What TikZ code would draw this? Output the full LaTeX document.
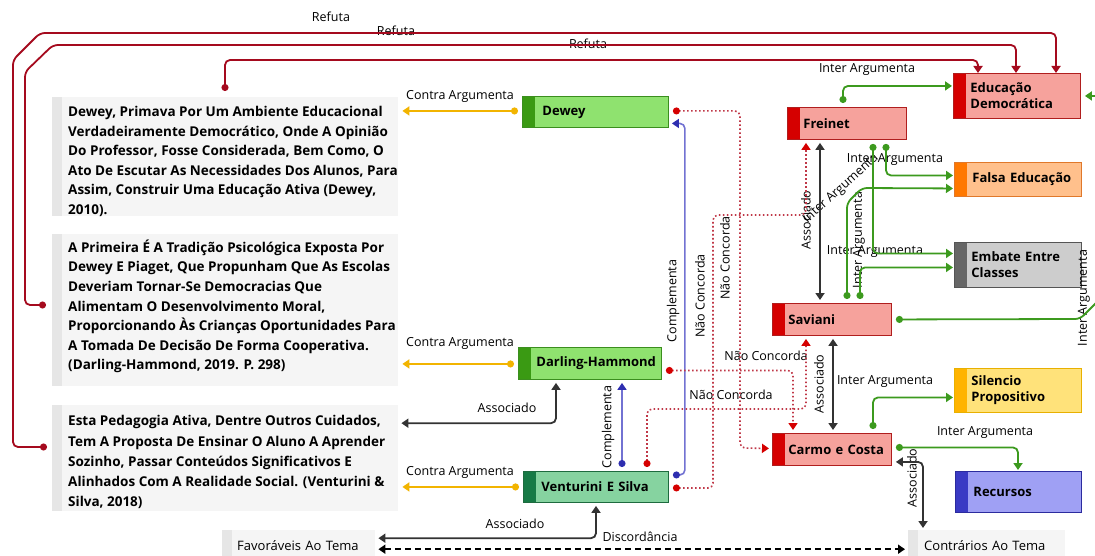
\documentclass[tikz,border=0pt]{standalone}
\usepackage{fontspec}
\setmainfont{Open Sans}
\usetikzlibrary{arrows.meta,calc}
\newcommand\nodeind[1][17pt]{\hspace*{#1}}
\definecolor{refred}{HTML}{A50A1E}
\definecolor{orng}{HTML}{F2B400}
\definecolor{grn}{HTML}{3C9A1E}
\definecolor{blk}{HTML}{333333}
\definecolor{blu}{HTML}{7272D2}
\definecolor{bluetip}{HTML}{2E2EB0}
\definecolor{dotred}{HTML}{C03848}
\definecolor{gD}{HTML}{3B8E1E}\definecolor{gF}{HTML}{8FE26F}\definecolor{gS}{HTML}{3A9A13}
\definecolor{vD}{HTML}{1E6B3F}\definecolor{vF}{HTML}{86D3A0}\definecolor{vS}{HTML}{177A46}
\definecolor{rD}{HTML}{B01E1E}\definecolor{rF}{HTML}{F6A29C}\definecolor{rS}{HTML}{D50000}
\definecolor{oD}{HTML}{E0782A}\definecolor{oF}{HTML}{FFC08C}\definecolor{oS}{HTML}{FF7800}
\definecolor{kD}{HTML}{555555}\definecolor{kF}{HTML}{CDCDCD}\definecolor{kS}{HTML}{666666}
\definecolor{yD}{HTML}{E8B000}\definecolor{yF}{HTML}{FFE27A}\definecolor{yS}{HTML}{FFB400}
\definecolor{bD}{HTML}{2B2B9E}\definecolor{bF}{HTML}{9FA0F4}\definecolor{bS}{HTML}{3A3AC4}
\definecolor{qF}{HTML}{F5F5F5}\definecolor{qS}{HTML}{E6E6E6}
\tikzset{
  cbox/.style n args={3}{draw=#1, fill=#2, line width=0.9pt, anchor=north west,
    inner xsep=0pt, inner ysep=0pt, align=left,
    font=\fontsize{13}{16}\selectfont\bfseries,
    path picture={\fill[#3] (path picture bounding box.north west) rectangle ([xshift=13pt]path picture bounding box.south west);}},
  gbox/.style={cbox={gD}{gF}{gS}},
  vbox/.style={cbox={vD}{vF}{vS}},
  rbox/.style={cbox={rD}{rF}{rS}},
  obox/.style={cbox={oD}{oF}{oS}},
  kbox/.style={cbox={kD}{kF}{kS}},
  ybox/.style={cbox={yD}{yF}{yS}},
  bbox/.style={cbox={bD}{bF}{bS}},
  qbox/.style={fill=qF, draw=none, anchor=north west, inner sep=0pt,
    path picture={\fill[qS] (path picture bounding box.north west) rectangle ([xshift=10pt]path picture bounding box.south west);}},
  tbox/.style={fill=qF, draw=none, anchor=north west, inner sep=0pt, align=left,
    font=\fontsize{13}{16}\selectfont,
    path picture={\fill[qS] (path picture bounding box.north west) rectangle ([xshift=10pt]path picture bounding box.south west);}},
  qtext/.style={anchor=north west, inner sep=0pt, align=left, font=\fontsize{13.5}{19.6}\selectfont\bfseries},
  lbl/.style={inner sep=0pt, font=\fontsize{12.5}{14}\selectfont},
  conn/.style={line width=1.8pt, rounded corners=5pt},
  refuta/.style={conn, draw=refred, {Circle[length=7pt]}-{Triangle[width=9pt,length=7pt]}},
  contra/.style={conn, draw=orng, {Circle[length=7pt]}-{Triangle[width=9pt,length=7pt]}},
  inter/.style={conn, draw=grn, {Circle[length=7pt]}-{Triangle[width=9pt,length=7pt]}},
  assoc/.style={conn, draw=blk, {Triangle[width=9pt,length=7pt]}-{Triangle[width=9pt,length=7pt]}},
  discord/.style={line width=1.8pt, draw=black, dash pattern=on 6pt off 4pt, {Triangle[width=9pt,length=7pt]}-{Triangle[width=9pt,length=7pt]}},
  compl/.style={conn, line width=1.6pt, draw=blu, {Circle[length=7pt,color=bluetip]}-{Triangle[width=9pt,length=7pt,color=bluetip]}},
  naoc/.style={conn, line width=1.6pt, draw=dotred, dash pattern=on 1.6pt off 2.4pt, {Circle[length=7pt,color=rS]}-{Triangle[width=9pt,length=7pt,color=rS]}},
}
\begin{document}
\begin{tikzpicture}[x=1pt,y=-1pt]
\useasboundingbox (0,0) rectangle (1095,556);
\fill[white] (0,0) rectangle (1095,556);
\clip (0,0) rectangle (1095,556);

% quote boxes
\node[qbox, minimum width=346pt, minimum height=119pt] (q1) at (52,97) {};
\node[qtext] (q1t) at (68,106) {Dewey, Primava Por Um Ambiente Educacional\\ Verdadeiramente Democrático, Onde A Opinião\\ Do Professor, Fosse Considerada, Bem Como, O\\ Ato De Escutar As Necessidades Dos Alunos, Para\\ Assim, Construir Uma Educação Ativa (Dewey,\\ 2010).};
\node[qbox, minimum width=346pt, minimum height=152pt] (q2) at (52,234) {};
\node[qtext] (q2t) at (68,239.5) {A Primeira É A Tradição Psicológica Exposta Por\\ Dewey E Piaget, Que Propunham Que As Escolas\\ Deveriam Tornar-Se Democracias Que\\ Alimentam O Desenvolvimento Moral,\\ Proporcionando Às Crianças Oportunidades Para\\ A Tomada De Decisão De Forma Cooperativa.\\ (Darling-Hammond, 2019. P. 298)};
\node[qbox, minimum width=346pt, minimum height=106pt] (q3) at (52,405) {};
\node[qtext, font=\fontsize{13.5}{20.2}\selectfont\bfseries] (q3t) at (68,415.5) {Esta Pedagogia Ativa, Dentre Outros Cuidados,\\ Tem A Proposta De Ensinar O Aluno A Aprender\\ Sozinho, Passar Conteúdos Significativos E\\ Alinhados Com A Realidade Social. (Venturini \&\\ Silva, 2018)};

% concept boxes
\node[gbox, minimum height=31pt, text width=146pt] (dewey) at (522,96) {\nodeind[20pt]Dewey};
\node[gbox, minimum height=32pt, text width=143pt] (darling) at (518,347) {\nodeind[18pt]Darling-Hammond};
\node[vbox, minimum height=31pt, text width=145pt] (venturini) at (523,471) {\nodeind[18pt]Venturini E Silva};
\node[rbox, minimum height=32pt, text width=119pt] (freinet) at (787,107) {\nodeind[16pt]Freinet};
\node[rbox, minimum height=45pt, text width=127pt] (edudem) at (953,73) {\nodeind Educação\\\nodeind Democrática};
\node[obox, minimum height=34pt, text width=127pt] (falsa) at (954,162) {\nodeind[18pt]Falsa Educação};
\node[kbox, minimum height=45pt, text width=127pt] (embate) at (954,242) {\nodeind Embate Entre\\\nodeind Classes};
\node[rbox, minimum height=32pt, text width=119pt] (saviani) at (772,303) {\nodeind[16pt]Saviani};
\node[ybox, minimum height=44pt, text width=127pt] (silencio) at (954,368) {\nodeind Silencio\\\nodeind Propositivo};
\node[rbox, minimum height=32pt, text width=119pt] (carmo) at (772,433) {\nodeind[16pt]Carmo e Costa};
\node[bbox, minimum height=41pt, text width=126pt] (recursos) at (955,471) {\nodeind[18pt]Recursos};
\node[tbox, minimum height=30pt, text width=153pt] (favor) at (222,530) {\nodeind[15pt]Favoráveis Ao Tema};
\node[tbox, minimum height=30pt, text width=157pt] (contra) at (908,530) {\nodeind[16pt]Contrários Ao Tema};

% labels
\node[lbl] (lr1) at (331,17) {Refuta};
\node[lbl] (lr2) at (396,31) {Refuta};
\node[lbl] (lr3) at (588,44) {Refuta};
\node[lbl] (lc1) at (460,96) {Contra Argumenta};
\node[lbl] (lc2) at (460,343) {Contra Argumenta};
\node[lbl] (lc3) at (460,472) {Contra Argumenta};
\node[lbl] (li1) at (867,70) {Inter Argumenta};
\node[lbl] (li2) at (895,160) {Inter Argumenta};
\node[lbl] (li3) at (875,252) {Inter Argumenta};
\node[lbl, rotate=42] (li4) at (841,189) {Inter Argumenta};
\node[lbl, rotate=90] (li5) at (859,240) {Inter Argumenta};
\node[lbl, rotate=90] (li6) at (1084,298) {Inter Argumenta};
\node[lbl] (li7) at (885,382) {Inter Argumenta};
\node[lbl] (li8) at (985,433) {Inter Argumenta};
\node[lbl, rotate=90] (la1) at (806,220) {Associado};
\node[lbl, rotate=90] (la2) at (819,384) {Associado};
\node[lbl, rotate=90] (la3) at (912,478) {Associado};
\node[lbl] (la4) at (507,408) {Associado};
\node[lbl] (la5) at (515,524) {Associado};
\node[lbl] (ld) at (640,537) {Discordância};
\node[lbl, rotate=90] (lb1) at (673,301) {Complementa};
\node[lbl, rotate=90] (lb2) at (608,427) {Complementa};
\node[lbl, rotate=90] (ln1) at (725,258) {Não Concorda};
\node[lbl, rotate=90] (ln2) at (700,296) {Não Concorda};
\node[lbl] (ln3) at (766,356) {Não Concorda};
\node[lbl] (ln4) at (731,395) {Não Concorda};

% Refuta
\draw[refuta] ($(q3.north west)+(-5,42)$) -| (13,60) -- (40,33) -- (1056,33) -- ($(edudem.north west)+(103,0)$);
\draw[refuta] ($(q2.north west)+(-6,71)$) -| (25,72) -- (53,45) -- (1016,45) -- ($(edudem.north west)+(63,0)$);
\draw[refuta] ($(q1.north west)+(173,-6)$) |- (978,60) -- ($(edudem.north west)+(25,0)$);

% Contra Argumenta
\draw[contra] ($(dewey.west)+(-4,-1)$) -- ($(dewey.west -| q1.east)+(4,-1)$);
\draw[contra] ($(darling.west)+(-4,0.5)$) -- ($(darling.west -| q2.east)+(4,0.5)$);
\draw[contra] ($(venturini.west)+(-4,0)$) -- ($(venturini.west -| q3.east)+(4,0)$);

% Inter Argumenta
\draw[inter] ($(freinet.north west)+(56,-4)$) |- ($(edudem.west)+(-1,-10)$);
\draw[inter] ($(freinet.south west)+(99,4)$) |- ($(falsa.west)+(-1,-4)$);
\draw[inter] ($(freinet.south west)+(86,4)$) |- ($(embate.west)+(-1,-11.5)$);
\draw[inter] ($(saviani.north west)+(75,-4)$) -- (847,203) -- (862,188) -- ($(falsa.west)+(-1,9)$);
\draw[inter] ($(saviani.north west)+(88,-4)$) |- ($(embate.west)+(-1,2.5)$);
\draw[inter] ($(saviani.east)+(4,0)$) -- (1080,319) -- (1110,289) -- (1110,96) -- ($(edudem.east)+(4,0)$);
\draw[inter] ($(carmo.north west)+(101,-4)$) |- ($(silencio.west)+(-1,7)$);
\draw[inter] ($(carmo.east)+(4,-2)$) -| ($(recursos.north west)+(63,-1)$);

% Associado
\draw[assoc] ($(freinet.south west)+(33,3)$) -- ($(saviani.north west)+(48,-3)$);
\draw[assoc] ($(saviani.south west)+(61,3)$) -- ($(carmo.north west)+(61,-3)$);
\draw[assoc] ($(carmo.south east)+(4,-4)$) -| ($(contra.north west)+(15,-2)$);
\draw[assoc] ($(darling.south west)+(38,3)$) |- ($(q3.east)+(3,-35)$);
\draw[assoc] ($(venturini.south west)+(73,3)$) |- ($(favor.east)+(3,-7)$);
\draw[discord] ($(favor.east)+(3,4)$) -- ($(contra.west)+(-3,4)$);

% Complementa
\draw[compl] ($(venturini.east)+(4,-12)$) -- ++(12,0) |- ($(dewey.east)+(3,11.5)$);
\draw[compl] ($(venturini.north west)+(99,-4)$) -- ($(darling.south west)+(104,3)$);

% Nao Concorda
\draw[naoc] ($(dewey.east)+(4,-1)$) -| (740,448) -- ($(carmo.west)+(-3,-1)$);
\draw[naoc] ($(venturini.east)+(4,1)$) -| (713,215) -| ($(freinet.south west)+(19,3)$);
\draw[naoc] ($(darling.east)+(4,7)$) -| ($(carmo.north west)+(21,-3)$);
\draw[naoc] ($(venturini.north west)+(124,-4)$) |- (806,409) -- ($(saviani.south west)+(34,3)$);
\end{tikzpicture}
\end{document}
